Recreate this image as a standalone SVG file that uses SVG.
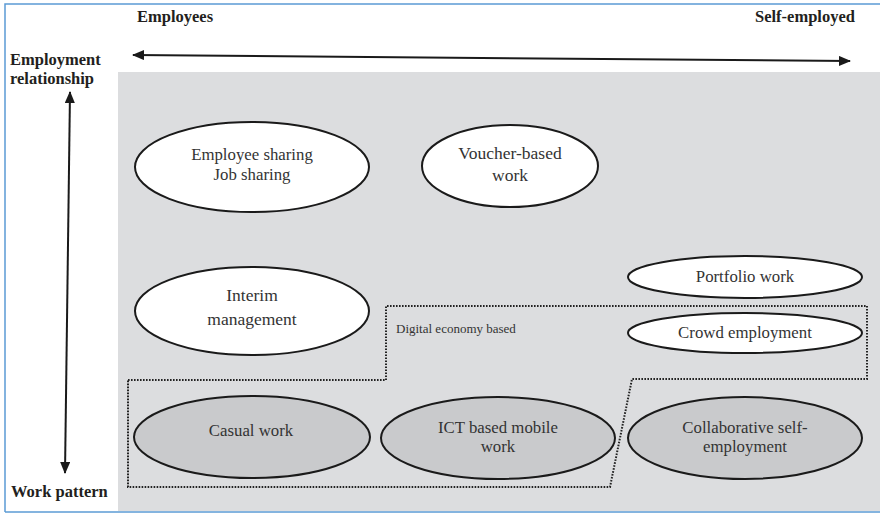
<svg xmlns="http://www.w3.org/2000/svg" width="884" height="515" viewBox="0 0 884 515">
<defs>
<marker id="ah" viewBox="0 0 12 10" refX="11" refY="5" markerWidth="12" markerHeight="10" markerUnits="userSpaceOnUse" orient="auto-start-reverse">
<path d="M0,0 L12,5 L0,10 z" fill="#1a1a1a"/>
</marker>
<style>
.hd{font-family:"Liberation Serif","Times New Roman",serif;font-weight:bold;font-size:16.5px;fill:#231f20}
.lb{font-family:"Liberation Serif","Times New Roman",serif;font-size:16.8px;fill:#333;text-anchor:middle}
.lg{font-size:17.5px}
.wh{fill:#fff;stroke:#1a1a1a;stroke-width:2}
.gy{fill:#c9cacc;stroke:#1a1a1a;stroke-width:2}
.ax{stroke:#1a1a1a;stroke-width:2;fill:none}
.dot{fill:none;stroke:#222;stroke-width:2;stroke-dasharray:1.6 1.4}
</style>
</defs>
<rect x="0" y="0" width="884" height="515" fill="#fff"/>
<rect x="118" y="72" width="762" height="439" fill="#dcdddf"/>
<path d="M5,512 V4 H880" fill="none" stroke="#5b9bd5" stroke-width="1.5"/>
<path d="M5,512 H880" fill="none" stroke="#5b9bd5" stroke-width="1.5"/>
<g id="labels">
<text class="hd" x="137" y="22">Employees</text>
<text class="hd" x="755" y="22">Self-employed</text>
<text class="hd" x="10" y="65">Employment</text>
<text class="hd" x="10" y="84">relationship</text>
<text class="hd" x="11" y="497">Work pattern</text>
</g>
<g id="connectors">
<line class="ax" x1="133" y1="55" x2="850" y2="61" marker-start="url(#ah)" marker-end="url(#ah)"/>
<line class="ax" x1="70" y1="92" x2="65" y2="473" marker-start="url(#ah)" marker-end="url(#ah)"/>
</g>
<g id="digital-economy">
<path class="dot" d="M128,380 H386 V306 H867 V379 H632 L610,487 H128 Z"/>
<text class="lb" x="396" y="333" style="font-size:13px;text-anchor:start">Digital economy based</text>
</g>
<g id="employee-sharing">
<ellipse class="wh" cx="252" cy="167" rx="117" ry="45"/>
<text class="lb" x="252" y="160">Employee sharing</text>
<text class="lb" x="252" y="180">Job sharing</text>
</g>
<g id="voucher">
<ellipse class="wh" cx="510" cy="166" rx="88" ry="41"/>
<text class="lb lg" x="510" y="159">Voucher-based</text>
<text class="lb lg" x="510" y="181">work</text>
</g>
<g id="interim">
<ellipse class="wh" cx="252" cy="311" rx="117" ry="44"/>
<text class="lb lg" x="252" y="301">Interim</text>
<text class="lb lg" x="252" y="325">management</text>
</g>
<g id="portfolio">
<ellipse class="wh" cx="745" cy="277" rx="117" ry="21"/>
<text class="lb" x="745" y="282">Portfolio work</text>
</g>
<g id="crowd">
<ellipse class="wh" cx="745" cy="333" rx="117" ry="20"/>
<text class="lb" x="745" y="338">Crowd employment</text>
</g>
<g id="casual">
<ellipse class="gy" cx="252" cy="437" rx="118" ry="41"/>
<text class="lb" x="251" y="436">Casual work</text>
</g>
<g id="ict">
<ellipse class="gy" cx="498" cy="438" rx="117" ry="41"/>
<text class="lb" x="498" y="433">ICT based mobile</text>
<text class="lb" x="498" y="452">work</text>
</g>
<g id="collaborative">
<ellipse class="gy" cx="745" cy="438" rx="117" ry="41"/>
<text class="lb" x="745" y="433">Collaborative self-</text>
<text class="lb" x="745" y="452">employment</text>
</g>
</svg>
